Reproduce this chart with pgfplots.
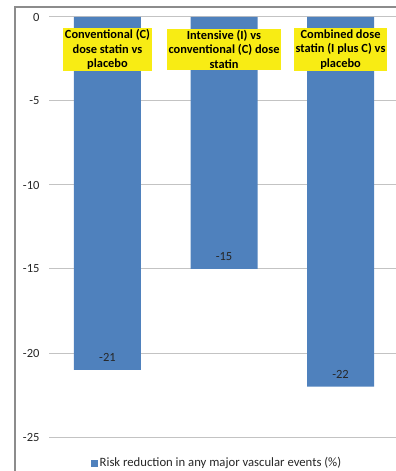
\documentclass[border=0pt]{standalone}
\usepackage{pgfplots}
\pgfplotsset{compat=1.18}
\usepackage{fontspec}
\setmainfont{Carlito}
\definecolor{barblue}{RGB}{79,129,189}
\definecolor{boxyellow}{RGB}{248,236,20}
\definecolor{gridgray}{RGB}{195,195,195}
\definecolor{framegray}{RGB}{140,140,140}
\begin{document}
\begin{tikzpicture}
\useasboundingbox (0,0) rectangle (396pt,471pt);
\draw[framegray, line width=1.5pt] (15pt,0pt) -- (15pt,464pt) -- (396pt,464pt);
\begin{axis}[
  at={(49pt,34pt)}, anchor=south west,
  scale only axis,
  width=347pt, height=420pt,
  xmin=-0.502, xmax=2.476,
  ymin=-25, ymax=0,
  ytick={0,-5,-10,-15,-20,-25},
  xtick=\empty,
  axis line style={draw=none},
  major tick length=0pt,
  ymajorgrids,
  grid style={gridgray, line width=1pt},
  tick label style={font=\fontsize{12.5}{14}\selectfont, text=black!85},
  yticklabel style={xshift=-6pt},
  /pgf/number format/assume math mode=true,
  ybar, bar width=67pt,
  nodes near coords,
  every node near coord/.style={anchor=center, yshift=12.5pt, font=\fontsize{12.5}{14}\selectfont, text=black!85},
  legend style={at={(0.484,-0.062)}, anchor=center, draw=none, fill=none, font=\fontsize{12.7}{14}\selectfont, text=black!85, legend cell align=left},
  legend image code/.code={\fill[barblue] (0pt,-3.5pt) rectangle (7pt,3.5pt);},
  clip=false,
]
\addplot[fill=barblue, draw=none] coordinates {(0,-21) (1,-15) (2,-22)};
\addlegendentry{Risk reduction in any major vascular events (\%)}
\node[fill=boxyellow, align=center, inner sep=1.5pt, font=\bfseries\fontsize{12.4}{14.5}\selectfont] at (axis cs:0,-1.93) {Conventional (C)\\dose statin vs\\placebo};
\node[fill=boxyellow, align=center, inner sep=1.5pt, font=\bfseries\fontsize{12.4}{14.5}\selectfont] at (axis cs:1,-1.93) {Intensive (I) vs\\conventional (C) dose\\statin};
\node[fill=boxyellow, align=center, inner sep=1.5pt, font=\bfseries\fontsize{12.4}{14.5}\selectfont] at (axis cs:2,-1.93) {Combined dose\\statin (I plus C) vs\\placebo};
\end{axis}
\end{tikzpicture}
\end{document}
